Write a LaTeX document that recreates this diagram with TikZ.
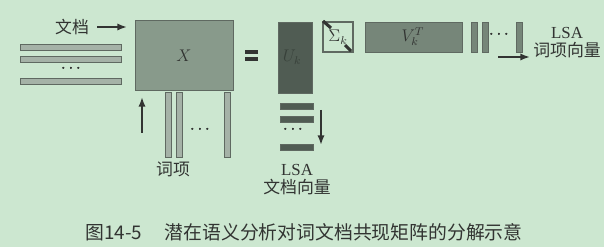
\documentclass[tikz,border=0pt]{standalone}
\usepackage{fontspec}
\setmainfont{Liberation Serif}
\newfontfamily\cjk{Noto Sans CJK SC}
\usetikzlibrary{positioning,arrows.meta}
\definecolor{bg}{RGB}{204,231,208}
\definecolor{edge}{RGB}{95,105,97}
\definecolor{matX}{RGB}{136,154,139}
\definecolor{matU}{RGB}{80,92,83}
\definecolor{matV}{RGB}{118,134,121}
\definecolor{light}{RGB}{165,178,167}
\definecolor{ink}{RGB}{50,52,50}
\begin{document}
\begin{tikzpicture}[x=0.025cm,y=-0.025cm,>={Latex[length=2.4mm,width=1.8mm]},
  bar/.style={draw=edge,line width=0.6pt},
  arr/.style={->,draw=ink,line width=1.5pt},
  lbl/.style={text=ink,font=\fontsize{12}{13}\selectfont,inner sep=0pt}]
\fill[bg] (0,0) rectangle (604,247);
\useasboundingbox (0,0) rectangle (604,247);
% row bar and column bar
\def\zeile#1#2#3#4{\draw[bar,fill=#4] (#1,#3) rectangle (#2,{#3+6});}
\def\spalte#1#2#3#4{\draw[bar,fill=#4] (#1,#2) rectangle ({#1+6},#3);}
% Matrix X
\draw[bar,fill=matX] (135,20) rectangle (233,90);
\node[lbl] (X) at (184,56) {$X$};
\node[lbl] (doc) at (72,27) {\cjk 文档};
\coordinate (docA) at (97,27);
\coordinate (docB) at (127,27);
\draw[arr] (docA) -- (docB);
\foreach \y in {44,56,78}
  \zeile{20}{121}{\y}{light}
\node[lbl] (rdots) at (71,69) {$\cdots$};
\foreach \x in {165,176,224}
  \spalte{\x}{92}{157}{light}
\node[lbl] (cdots) at (200,130) {$\cdots$};
\coordinate (termA) at (142,133);
\coordinate (termB) at (142,97);
\draw[arr] (termA) -- (termB);
\node[lbl] (term) at (173,169) {\cjk 词项};
% =
\draw[ink,line width=2.4pt] (245,52) -- (258,52);
\draw[ink,line width=2.4pt] (245,59) -- (258,59);
% U_k
\draw[bar,fill=matU] (278,22) rectangle (312,93);
\node[lbl,text=matU!70!black] (U) at (292,57) {$U_k$};
\foreach \y in {103,116,144}
  \zeile{280}{313}{\y}{matU}
\node[lbl] (udots) at (293,130) {$\cdots$};
\coordinate (uA) at (321,110);
\coordinate (uB) at (321,145);
\draw[arr] (uA) -- (uB);
\node[lbl] (lsaD) at (297,170) {LSA};
\node[lbl,below=2pt of lsaD] (docvec) {\cjk 文档向量};
% Sigma_k
\draw[draw=edge,line width=0.8pt] (323,22) rectangle (353,52);
\draw[ink,line width=2.2pt] (323,21) -- (331,28);
\draw[ink,line width=2.2pt] (345,45) -- (351,51);
\node[lbl] (S) at (338,37) {$\Sigma_k$};
% V^T_k
\draw[bar,fill=matV] (365,22) rectangle (462,52);
\node[lbl] (V) at (413,37) {$V^{T}_{k}$};
\foreach \x in {471,482,516}
  \spalte{\x}{22}{52}{matV}
\node[lbl] (vdots) at (499,35) {$\cdots$};
\coordinate (vA) at (498,57);
\coordinate (vB) at (530,57);
\draw[arr] (vA) -- (vB);
\node[lbl] (lsaT) at (567,33) {LSA};
\node[lbl,below=2pt of lsaT] (termvec) {\cjk 词项向量};
% caption
\node[text=ink,font=\fontsize{13.4}{15}\selectfont,inner sep=0pt] (cap) at (304,232)
  {\cjk 图14-5\hspace{1.2em}潜在语义分析对词文档共现矩阵的分解示意};
\end{tikzpicture}
\end{document}
